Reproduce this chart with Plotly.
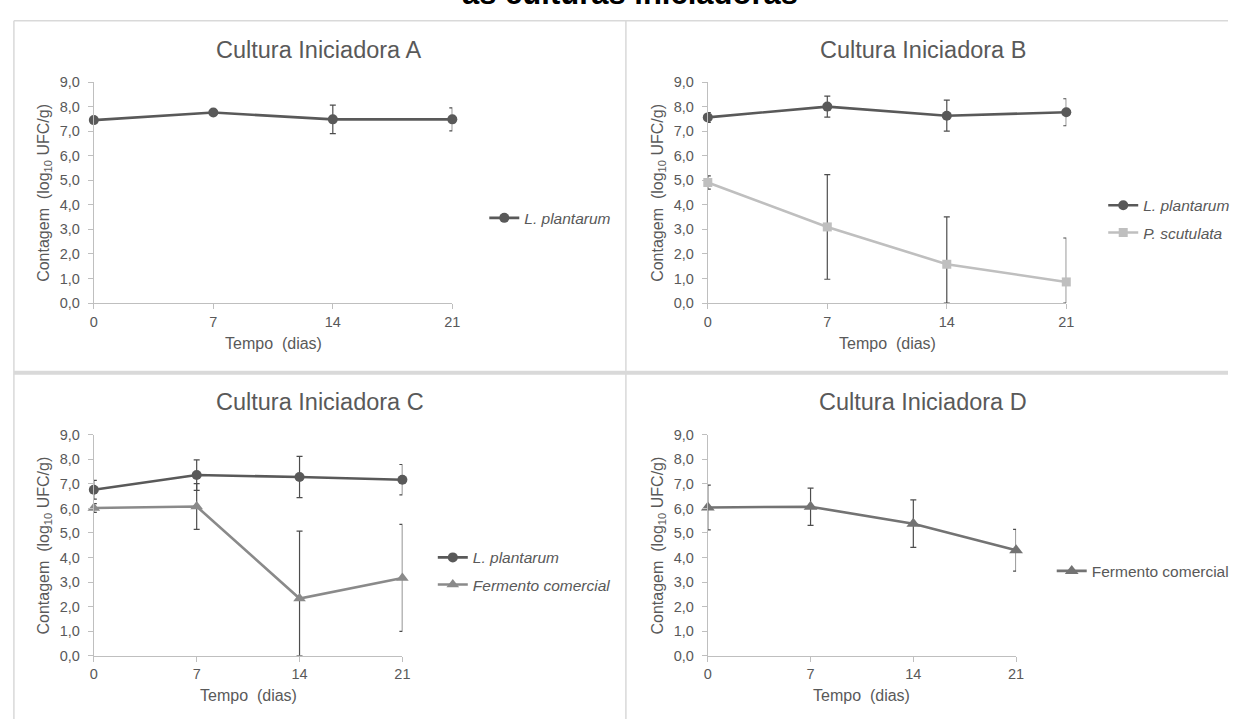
import plotly.graph_objects as go

W, H = 1236, 727

# ---------------- data ----------------
dias = [0, 7, 14, 21]
x_ticks = [0, 7, 14, 21]
y_ticks = [0, 1, 2, 3, 4, 5, 6, 7, 8, 9]

a_lplantarum = [7.45, 7.76, 7.48, 7.48]
a_lplantarum_err = [0.10, 0.08, 0.58, 0.47]

b_lplantarum = [7.56, 8.00, 7.63, 7.77]
b_lplantarum_err = [0.20, 0.43, 0.63, 0.55]
b_pscutulata = [4.91, 3.10, 1.58, 0.86]
b_pscutulata_err = [0.27, 2.13, 1.93, 1.79]

c_lplantarum = [6.76, 7.36, 7.28, 7.17]
c_lplantarum_err = [0.38, 0.62, 0.84, 0.62]
c_fermento = [6.02, 6.08, 2.33, 3.17]
c_fermento_err = [0.18, 0.93, 2.75, 2.18]

d_fermento = [6.04, 6.07, 5.38, 4.30]
d_fermento_err = [0.91, 0.76, 0.97, 0.85]

titles = ["Cultura Iniciadora A", "Cultura Iniciadora B",
          "Cultura Iniciadora C", "Cultura Iniciadora D"]

# ---------------- helpers ----------------
def px(v):
    return v / W

def py(v):
    return 1 - v / H

FONT = "Liberation Sans, Arial, sans-serif"
TXT = "#595959"
AXC = "#bfbfbf"

fig = go.Figure()

def add_series(y, err, axis_id, name, color, symbol, size, legend, group):
    xa = "x" if axis_id == 1 else f"x{axis_id}"
    ya = "y" if axis_id == 1 else f"y{axis_id}"
    minus = [min(e, v) for e, v in zip(err, y)]
    fig.add_trace(go.Scatter(
        x=dias, y=y, xaxis=xa, yaxis=ya, name=name, legend=legend,
        legendgroup=group,
        mode="lines+markers", cliponaxis=False,
        line=dict(color=color, width=2.6),
        marker=dict(color=color, symbol=symbol, size=size),
        error_y=dict(type="data", symmetric=False, array=err, arrayminus=minus,
                     color="#4d4d4d", thickness=1.2, width=3),
    ))

DARK = "#595959"
LIGHT = "#bfbfbf"
MID = "#8a8a8a"
MID2 = "#737373"

add_series(a_lplantarum, a_lplantarum_err, 1, "<i>L. plantarum</i>", DARK, "circle", 10, "legend", "a1")
add_series(b_lplantarum, b_lplantarum_err, 2, "<i>L. plantarum</i>", DARK, "circle", 10, "legend2", "b1")
add_series(b_pscutulata, b_pscutulata_err, 2, "<i>P. scutulata</i>", LIGHT, "square", 9, "legend2", "b2")
add_series(c_lplantarum, c_lplantarum_err, 3, "<i>L. plantarum</i>", DARK, "circle", 10, "legend3", "c1")
add_series(c_fermento, c_fermento_err, 3, "<i>Fermento comercial</i>", MID, "triangle-up", 11, "legend3", "c2")
add_series(d_fermento, d_fermento_err, 4, "Fermento comercial", MID2, "triangle-up", 12, "legend4", "d1")

# panel geometry in pixels: (x0, x21, y0(value 0), y9(value 9))
panels = {
    1: (90.7, 452.7, 301.7, 75.7),
    2: (710.7, 1072.7, 301.7, 75.7),
    3: (90.7, 402.3, 662.3, 436.4),
    4: (710.7, 1022.0, 662.3, 436.4),
}

layout = dict(
    width=W, height=H, margin=dict(l=0, r=0, t=0, b=0),
    paper_bgcolor="white", plot_bgcolor="white",
    separators=",.",
    font=dict(family=FONT, color=TXT, size=14),
    showlegend=True,
)

for i, (x0, x1, y0, y9) in panels.items():
    sx = "" if i == 1 else str(i)
    layout[f"xaxis{sx}"] = dict(
        domain=[px(x0), px(x1)], anchor=f"y{sx}", range=[0, 21],
        tickvals=x_ticks, ticktext=[str(v) for v in x_ticks],
        showgrid=False, zeroline=False, showline=True, linecolor=AXC, linewidth=1.2,
        ticks="outside", ticklen=5, tickcolor=AXC, tickwidth=1.2,
        tickfont=dict(size=14.5, color=TXT), fixedrange=True,
    )
    layout[f"yaxis{sx}"] = dict(
        domain=[py(y0), py(y9)], anchor=f"x{sx}", range=[0, 9],
        tickvals=y_ticks, tickformat=".1f",
        showgrid=False, zeroline=False, showline=True, linecolor=AXC, linewidth=1.2,
        ticks="outside", ticklen=5, tickcolor=AXC, tickwidth=1.2,
        ticklabelstandoff=5,
        tickfont=dict(size=14.5, color=TXT), fixedrange=True,
    )

annotations = []
# big partial title at very top (cut off by the page edge, as in the reference)
annotations.append(dict(
    text="<b>as culturas iniciadoras</b>", x=px(632), y=py(5), xref="paper", yref="paper",
    xanchor="center", yanchor="bottom", showarrow=False,
    font=dict(size=31, color="black", family=FONT)))

title_pos = {1: (318, 43), 2: (928, 43), 3: (319, 403), 4: (928, 403)}
for i, (x0, x1, y0, y9) in panels.items():
    tx, ty = title_pos[i]
    annotations.append(dict(
        text=titles[i - 1], x=px(tx), y=py(ty), xref="paper", yref="paper",
        xanchor="center", yanchor="middle", showarrow=False,
        font=dict(size=23.5, color=TXT)))
    annotations.append(dict(
        text="Tempo&nbsp;&nbsp;(dias)", x=px((x0 + x1) / 2), y=py(y0 + 41), xref="paper", yref="paper",
        xanchor="center", yanchor="middle", showarrow=False,
        font=dict(size=16, color=TXT)))
    annotations.append(dict(
        text="Contagem&nbsp;&nbsp;(log<sub>10</sub> UFC/g)", x=px(x0 - 50), y=py((y0 + y9) / 2),
        xref="paper", yref="paper", xanchor="center", yanchor="middle",
        textangle=-90, showarrow=False, font=dict(size=16, color=TXT)))
layout["annotations"] = annotations

legend_pos = {"legend": (493, 215), "legend2": (1118, 216), "legend3": (441, 576), "legend4": (1066, 576)}
for k, (lx, ly) in legend_pos.items():
    layout[k] = dict(x=px(lx - 8), y=py(ly), xref="paper", yref="paper",
                     xanchor="left", yanchor="middle", bgcolor="rgba(0,0,0,0)",
                     font=dict(size=15.5, color=TXT), tracegroupgap=4, itemwidth=30)

BC = "#d9d9d9"
shapes = [
    dict(type="line", xref="paper", yref="paper", x0=px(10), x1=1, y0=py(13), y1=py(13), line=dict(color=BC, width=1.5)),
    dict(type="line", xref="paper", yref="paper", x0=px(10), x1=px(10), y0=py(13), y1=0, line=dict(color=BC, width=1.5)),
    dict(type="line", xref="paper", yref="paper", x0=px(628), x1=px(628), y0=py(13), y1=0, line=dict(color=BC, width=1.5)),
    dict(type="line", xref="paper", yref="paper", x0=px(10), x1=1, y0=py(373), y1=py(373), line=dict(color=BC, width=4)),
]
layout["shapes"] = shapes

fig.update_layout(**layout)
fig.write_html("out.html")
